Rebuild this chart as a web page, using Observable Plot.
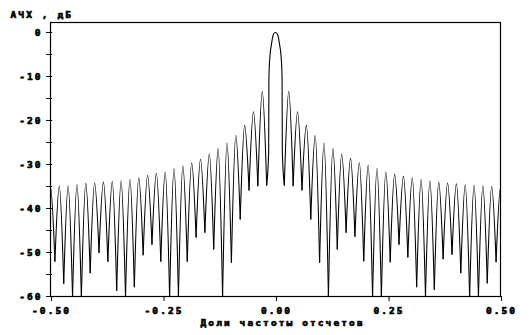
<!DOCTYPE html>
<html><head><meta charset="utf-8">
<script src="https://cdn.jsdelivr.net/npm/d3@7"></script>
<script src="https://cdn.jsdelivr.net/npm/@observablehq/plot@0.6"></script>
<style>body{margin:0;background:#fff}</style>
</head><body><div id="chart"></div>
<script>
const yTitle = "АЧХ , дБ";
const xTitle = "Доли частоты отсчетов";
const xTicks = [-0.5, -0.25, 0, 0.25, 0.5];
const xTickLabels = ["-0.50", "-0.25", "0.00", "0.25", "0.50"];
const yTicks = [0, -5, -10, -15, -20, -25, -30, -35, -40, -45, -50, -55, -60];
const yTickLabels = ["0", "", "-10", "", "-20", "", "-30", "", "-40", "", "-50", "", "-60"];

// main lobe points
const mainF  = [-0.0196, -0.0152, -0.0146, -0.0122, -0.0095, -0.0045, 0, 0.0045, 0.0095, 0.0122, 0.0146, 0.0152, 0.0196];
const mainDb = [-34.7, -27.2, -10, -5.2, -3, -0.4, 0, -0.4, -3, -5.2, -10, -27.2, -34.7];

// |f| of nulls (k = 1..26) and sidelobe peaks (k = 1..25, last one at the edge)
const nullF = [0.0196, 0.0392, 0.0588, 0.0784, 0.0980, 0.1176, 0.1373, 0.1569, 0.1765, 0.1961, 0.2157, 0.2353, 0.2549, 0.2745, 0.2941, 0.3137, 0.3333, 0.3529, 0.3725, 0.3922, 0.4118, 0.4314, 0.4510, 0.4706, 0.4902, 0.5098];
const peakF = [0.0294, 0.0490, 0.0686, 0.0882, 0.1078, 0.1275, 0.1471, 0.1667, 0.1863, 0.2059, 0.2255, 0.2451, 0.2647, 0.2843, 0.3039, 0.3235, 0.3431, 0.3627, 0.3824, 0.4020, 0.4216, 0.4412, 0.4608, 0.4804, 0.5000];

const peakLeft  = [-13.4, -18.0, -21.1, -23.4, -25.1, -26.4, -27.6, -28.8, -29.6, -30.3, -31.0, -31.7, -32.0, -32.5, -33.0, -33.4, -33.7, -33.9, -34.0, -34.2, -34.3, -34.6, -34.9, -34.9, -35.1];
const peakRight = [-13.4, -18.0, -21.1, -23.4, -25.1, -26.4, -27.6, -28.6, -29.6, -30.2, -30.9, -31.7, -32.2, -32.7, -33.0, -33.4, -33.7, -34.0, -34.2, -34.4, -34.6, -34.7, -34.9, -35.0, -35.2];
const nullLeft  = [-34.7, -34.8, -35.8, -42.4, -52.2, -60, -49.2, -45.4, -46.5, -52.0, -60, -60, -52.0, -48.1, -50.5, -57.8, -60, -58.6, -52.0, -50.0, -54.6, -60, -60, -57.0, -52.0, -52.0];
const nullRight = [-34.7, -34.8, -35.8, -42.4, -52.2, -60, -49.2, -45.4, -46.3, -51.9, -60, -60, -52.1, -48.1, -51.0, -57.8, -60, -58.4, -51.4, -50.4, -54.6, -60, -60, -56.9, -52.1, -52.0];

const rows = [];
mainF.forEach((f, i) => rows.push({f, db: mainDb[i], lobe: "main"}));
for (let k = 1; k <= 25; k++) {
  rows.push({f: -nullF[k], db: nullLeft[k], lobe: "L" + k});
  rows.push({f: -peakF[k - 1], db: peakLeft[k - 1], lobe: "L" + k});
  rows.push({f: -nullF[k - 1], db: nullLeft[k - 1], lobe: "L" + k});
  rows.push({f: nullF[k - 1], db: nullRight[k - 1], lobe: "R" + k});
  rows.push({f: peakF[k - 1], db: peakRight[k - 1], lobe: "R" + k});
  rows.push({f: nullF[k], db: nullRight[k], lobe: "R" + k});
}

const xLab = new Map(xTicks.map((d, i) => [d, xTickLabels[i]]));
const yLab = new Map(yTicks.map((d, i) => [d, yTickLabels[i]]));

const txt = {textStroke: "#000", textStrokeWidth: 0.7};

const chart = Plot.plot({
  width: 529,
  height: 335,
  marginLeft: 50,
  marginRight: 29,
  marginTop: 22,
  marginBottom: 39,
  x: {domain: [-0.5, 0.5]},
  y: {domain: [-60, 2.27]},
  style: {fontFamily: "DejaVu Sans Mono", fontSize: "9.5px", fontWeight: "bold", letterSpacing: "2.1px", background: "#fff", color: "#000"},
  marks: [
    Plot.axisY(yTicks, {tickSize: 6, tickPadding: 4, tickFormat: d => yLab.get(d), dx: 2.1, label: null, stroke: "#000", fill: "#000", ...txt}),
    Plot.axisX(xTicks, {tickSize: 5, tickPadding: 6, tickFormat: d => xLab.get(d), dx: 1.05, label: null, stroke: "#000", fill: "#000", ...txt}),
    Plot.line(rows, {x: "f", y: "db", z: "lobe", curve: "monotone-x", stroke: "#000", strokeWidth: 1.1, clip: true}),
    Plot.frame({stroke: "#000", strokeWidth: 1.2}),
    Plot.text([yTitle], {frameAnchor: "top-left", dx: -40, dy: -11, textAnchor: "start", fill: "#000", stroke: "#000", strokeWidth: 0.7}),
    Plot.text([xTitle], {frameAnchor: "bottom-left", dx: 150, dy: 29.5, textAnchor: "start", fill: "#000", stroke: "#000", strokeWidth: 0.7})
  ]
});
document.getElementById("chart").appendChild(chart);
</script>
</body></html>
